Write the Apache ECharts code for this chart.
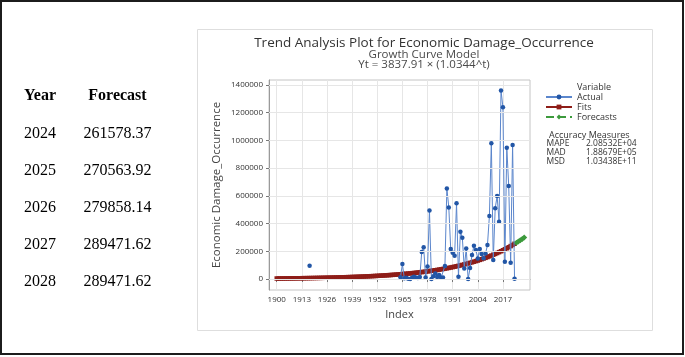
<!DOCTYPE html>
<html><head><meta charset="utf-8">
<script src="https://cdn.jsdelivr.net/npm/echarts@6/dist/echarts.min.js"></script>
<style>html,body{margin:0;padding:0;background:#fff}#c{width:685px;height:357px}</style>
</head><body><div id="c"></div>
<script>
// ---- data ----
const AXIS_FIRST_YEAR = 1896, AXIS_LAST_YEAR = 2031;
const axisYears = [];
for (let y = AXIS_FIRST_YEAR; y <= AXIS_LAST_YEAR; y++) axisYears.push(String(y));
const xTickLabels = ['1900','1913','1926','1939','1952','1965','1978','1991','2004','2017'];
const yTicks = [0,200000,400000,600000,800000,1000000,1200000,1400000];

const DATA_FIRST_YEAR = 1900, DATA_LAST_YEAR = 2023;
const dataYears = [];
for (let y = DATA_FIRST_YEAR; y <= DATA_LAST_YEAR; y++) dataYears.push(String(y));

const actualValues = [
  null,null,null,null,null,null,null,null,null,null,
  null,null,null,null,null,null,null,96000,null,null,
  null,null,null,null,null,null,null,null,null,null,
  null,null,null,null,null,null,null,null,null,null,
  null,null,null,null,null,null,null,null,null,null,
  null,null,null,null,null,null,null,null,null,null,
  null,null,null,null,
  13000,108000,5000,9000,3000,0,10000,17000,12000,8000,
  15000,195000,229000,12000,90000,495000,0,20000,40000,15000,
  30000,10000,12000,95000,654000,517000,216000,190000,168000,546000,
  17000,341000,298000,77000,221000,0,80000,173000,240000,210000,
  149000,216000,180000,150000,185000,245000,455000,980000,137000,510000,
  599000,414000,1360000,1240000,125000,948000,671000,118000,967000,3000
];
const fitValues = [
  3970,4107,4248,4394,4545,4701,4863,5030,5203,5382,
  5567,5759,5957,6162,6374,6593,6820,7055,7298,7549,
  7807,8077,8354,8642,8939,9246,9565,9894,10235,10587,
  10949,11328,11716,12120,12537,12967,13414,13876,14354,14848,
  15355,15887,16431,16998,17583,18186,18812,19460,20131,20824,
  21535,22281,23044,23839,24659,25505,26383,27292,28233,29205,
  30202,31248,32318,33433,34583,35769,37001,38276,39595,40958,
  42357,43824,45324,46888,48501,50164,51892,53680,55530,57442,
  59404,61461,63565,65758,68020,70352,72776,75283,77878,80559,
  83311,86196,89147,92222,95395,98665,102065,105581,109220,112980,
  116839,120885,125024,129337,133787,138373,143141,148072,153175,158449,
  163861,169535,175340,181388,187629,194061,200748,207663,214820,222217,
  229807,237764,245905,254387
];
const forecastYears = ['2024','2025','2026','2027','2028'];
const forecastValues = [261578.37,270563.92,279858.14,289471.62,299420];

const tableHeaders = ['Year','Forecast'];
const tableYears = ['2024','2025','2026','2027','2028'];
const tableForecasts = ['261578.37','270563.92','279858.14','289471.62','289471.62'];

const titleLines = ['Trend Analysis Plot for Economic Damage_Occurrence','Growth Curve Model','Yt = 3837.91 \u00d7 (1.0344^t)'];
const accuracyTitle = 'Accuracy Measures';
const accuracyNames = ['MAPE','MAD','MSD'];
const accuracyValues = ['2.08532E+04','1.88679E+05','1.03438E+11'];

// ---- chart ----
const FONT = 'Open Sans';
const chart = echarts.init(document.getElementById('c'), null, {renderer:'canvas'});
const showTick = (i, v) => xTickLabels.indexOf(String(v)) >= 0;

const graphics = [
  {type:'rect', shape:{x:1,y:1,width:682,height:353}, style:{fill:'none',stroke:'#1c1c1c',lineWidth:2}, z:100},
  {type:'rect', shape:{x:197.5,y:29.5,width:455,height:301}, style:{fill:'none',stroke:'#dedede',lineWidth:1}, z:1},
  {type:'text', x:424, y:43, style:{text:titleLines[0], font:'13.5px "'+FONT+'"', fill:'#333', textAlign:'center', textVerticalAlign:'middle'}},
  {type:'text', x:424, y:55, style:{text:titleLines[1], font:'11.5px "'+FONT+'"', fill:'#4a4a4a', textAlign:'center', textVerticalAlign:'middle'}},
  {type:'text', x:424, y:64.5, style:{text:titleLines[2], font:'11.5px "'+FONT+'"', fill:'#4a4a4a', textAlign:'center', textVerticalAlign:'middle'}},
  {type:'text', x:577, y:87, style:{text:'Variable', font:'9px "'+FONT+'"', fill:'#333', textAlign:'left', textVerticalAlign:'middle'}},
  {type:'text', x:549, y:135, style:{text:accuracyTitle, font:'9px "'+FONT+'"', fill:'#333', textAlign:'left', textVerticalAlign:'middle'}}
];
accuracyNames.forEach((n, i) => {
  graphics.push({type:'text', x:546.5, y:144 + i*9, style:{text:n, font:'8.5px "'+FONT+'"', fill:'#333', textAlign:'left', textVerticalAlign:'middle'}});
  graphics.push({type:'text', x:586, y:144 + i*9, style:{text:accuracyValues[i], font:'8.5px "'+FONT+'"', fill:'#333', textAlign:'left', textVerticalAlign:'middle'}});
});
graphics.push({type:'text', x:40, y:96, style:{text:tableHeaders[0], font:'bold 16px "Liberation Serif"', fill:'#000', textAlign:'center', textVerticalAlign:'middle'}});
graphics.push({type:'text', x:117.5, y:96, style:{text:tableHeaders[1], font:'bold 16px "Liberation Serif"', fill:'#000', textAlign:'center', textVerticalAlign:'middle'}});
tableYears.forEach((y, i) => {
  const yy = 133.5 + i*37;
  graphics.push({type:'text', x:40, y:yy, style:{text:y, font:'16px "Liberation Serif"', fill:'#000', textAlign:'center', textVerticalAlign:'middle'}});
  graphics.push({type:'text', x:117.5, y:yy, style:{text:tableForecasts[i], font:'16px "Liberation Serif"', fill:'#000', textAlign:'center', textVerticalAlign:'middle'}});
});

const option = {
  animation: false,
  backgroundColor: '#fff',
  graphic: graphics,
  grid: {left:269, right:155, top:80, bottom:67, show:true, borderColor:'#c4c4c4', borderWidth:1, backgroundColor:'transparent'},
  legend: {
    data:['Actual','Fits','Forecasts'], orient:'vertical', left:545, top:92.5, padding:0,
    itemWidth:26, itemHeight:6, itemGap:1,
    textStyle:{fontSize:9, lineHeight:9, color:'#333', fontFamily:FONT}
  },
  xAxis: {
    type:'category', data:axisYears, boundaryGap:false,
    name:'Index', nameLocation:'middle', nameGap:17,
    nameTextStyle:{fontSize:11, color:'#444', fontFamily:FONT},
    axisLine:{show:true, lineStyle:{color:'#9a9a9a'}},
    axisTick:{show:true, interval:showTick, length:3, lineStyle:{color:'#777'}},
    axisLabel:{interval:showTick, fontSize:8, color:'#333', fontFamily:FONT, margin:6},
    splitLine:{show:true, interval:showTick, lineStyle:{color:'#e6e6e6'}}
  },
  yAxis: {
    type:'value', min:-79000, max:1436000,
    name:'Economic Damage_Occurrence', nameLocation:'middle', nameGap:46,
    nameTextStyle:{fontSize:11.5, color:'#444', fontFamily:FONT},
    axisLine:{show:true, lineStyle:{color:'#9a9a9a'}},
    axisTick:{show:true, customValues:yTicks, length:3, lineStyle:{color:'#777'}},
    axisLabel:{customValues:yTicks, formatter:(v) => String(v), fontSize:8, color:'#333', fontFamily:FONT, margin:6},
    splitLine:{show:false}
  },
  series: [
    {
      name:'gridlines', type:'line', data:[], z:1, silent:true,
      markLine:{silent:true, symbol:'none', label:{show:false}, animation:false,
        lineStyle:{color:'#e6e6e6', type:'solid', width:1},
        data: yTicks.map(v => ({yAxis:v}))}
    },
    {
      name:'Fits', type:'line', z:3,
      data: dataYears.map((y, i) => [y, fitValues[i]]),
      showAllSymbol:true, symbol:'rect', symbolSize:4.5,
      lineStyle:{color:'#8e1d18', width:2},
      itemStyle:{color:'#8e1d18'}
    },
    {
      name:'Forecasts', type:'line', z:3,
      data: forecastYears.map((y, i) => [y, forecastValues[i]]),
      showAllSymbol:true, symbol:'diamond', symbolSize:6,
      lineStyle:{color:'#3c9a3c', width:1.5, type:'dashed'},
      itemStyle:{color:'#3c9a3c'}
    },
    {
      name:'Actual', type:'line', z:4,
      data: dataYears.map((y, i) => [y, actualValues[i]]),
      connectNulls:false, showAllSymbol:true, symbol:'circle', symbolSize:4.5,
      lineStyle:{color:'#5b86cc', width:1},
      itemStyle:{color:'#2256a6'}
    }
  ]
};
chart.setOption(option);
</script>
</body></html>
